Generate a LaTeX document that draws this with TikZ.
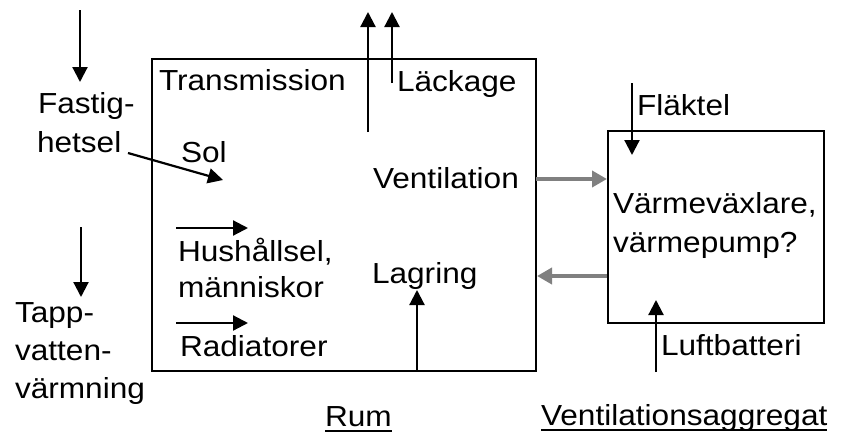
\documentclass[tikz,border=0pt]{standalone}
\usepackage{fontspec}
\setmainfont{Liberation Sans}[FakeStretch=1.09]
\usetikzlibrary{arrows.meta}
\definecolor{flowgrey}{RGB}{128,128,128}
\begin{document}
\begin{tikzpicture}[x=1pt,y=-1pt,
  txt/.style={anchor=base west,inner sep=0pt,outer sep=0pt,font=\fontsize{29}{38}\selectfont},
  boxnode/.style={draw,line width=1.6pt,inner sep=0pt,outer sep=0pt,anchor=north west},
  arr/.style={line width=2.2pt,-{Triangle[length=15pt,width=15pt]}},
  garr/.style={draw=flowgrey,line width=4pt,-{Triangle[length=15pt,width=16pt]}},
  uline/.style={line width=2pt}
]
\useasboundingbox (0,0) rectangle (841,434);

% boxes
\node[boxnode,minimum width=384pt,minimum height=312pt] (rumbox) at (152,59) {};
\node[boxnode,minimum width=216pt,minimum height=192pt] (vabox) at (608,131) {};

% texts
\node[txt] (fastig) at (38,113) {Fastig-};
\node[txt] (hetsel) at (37,152) {hetsel};
\node[txt] (trans) at (159,90) {Transmission};
\node[txt] (lack) at (397,91) {Läckage};
\node[txt] (sol) at (181,162) {Sol};
\node[txt] (vent) at (373,188) {Ventilation};
\node[txt] (hush) at (178,261) {Hushållsel,};
\node[txt] (mann) at (178,297) {människor};
\node[txt] (lag) at (372,283) {Lagring};
\node[txt] (rad) at (180,356) {Radiatorer};
\node[txt] (tapp) at (15,322) {Tapp-};
\node[txt] (vatt) at (15,360) {vatten-};
\node[txt] (varm) at (15,398) {värmning};
\node[txt] (rum) at (325,426) {Rum};
\node[txt] (flakt) at (637,115) {Fläktel};
\node[txt] (vvx) at (613,213) {Värmeväxlare,};
\node[txt] (vp) at (613,252) {värmepump?};
\node[txt] (luft) at (661,355) {Luftbatteri};
\node[txt] (vag) at (541,425) {Ventilationsaggregat};

% underlines
\draw[uline] ([yshift=-5pt]rum.base west) -- ([yshift=-5pt]rum.base east);
\draw[uline] ([yshift=-5pt]vag.base west) -- ([yshift=-5pt]vag.base east);

% arrow end points
\coordinate (fa1) at (80,10);   \coordinate (fa2) at (80,82);
\coordinate (ta1) at (81,227);  \coordinate (ta2) at (81,297);
\coordinate (tr1) at (368,132); \coordinate (tr2) at (368,12);
\coordinate (la1) at (392,83);  \coordinate (la2) at (392,12);
\coordinate (so1) at (128,153); \coordinate (so2) at (223,180);
\coordinate (hu1) at (176,228); \coordinate (hu2) at (248,228);
\coordinate (ra1) at (176,323); \coordinate (ra2) at (248,323);
\coordinate (lg1) at (417,371); \coordinate (lg2) at (417,290);
\coordinate (fl1) at (632,83);  \coordinate (fl2) at (632,155);
\coordinate (lu1) at (656,372); \coordinate (lu2) at (656,300);
\coordinate (g1a) at (536,179); \coordinate (g1b) at (607,179);
\coordinate (g2a) at (607,276); \coordinate (g2b) at (537,276);

\draw[arr] (fa1) -- (fa2);
\draw[arr] (ta1) -- (ta2);
\draw[arr] (tr1) -- (tr2);
\draw[arr] (la1) -- (la2);
\draw[arr] (so1) -- (so2);
\draw[arr] (hu1) -- (hu2);
\draw[arr] (ra1) -- (ra2);
\draw[arr] (lg1) -- (lg2);
\draw[arr] (fl1) -- (fl2);
\draw[arr] (lu1) -- (lu2);
\draw[garr] (g1a) -- (g1b);
\draw[garr] (g2a) -- (g2b);
\end{tikzpicture}
\end{document}
